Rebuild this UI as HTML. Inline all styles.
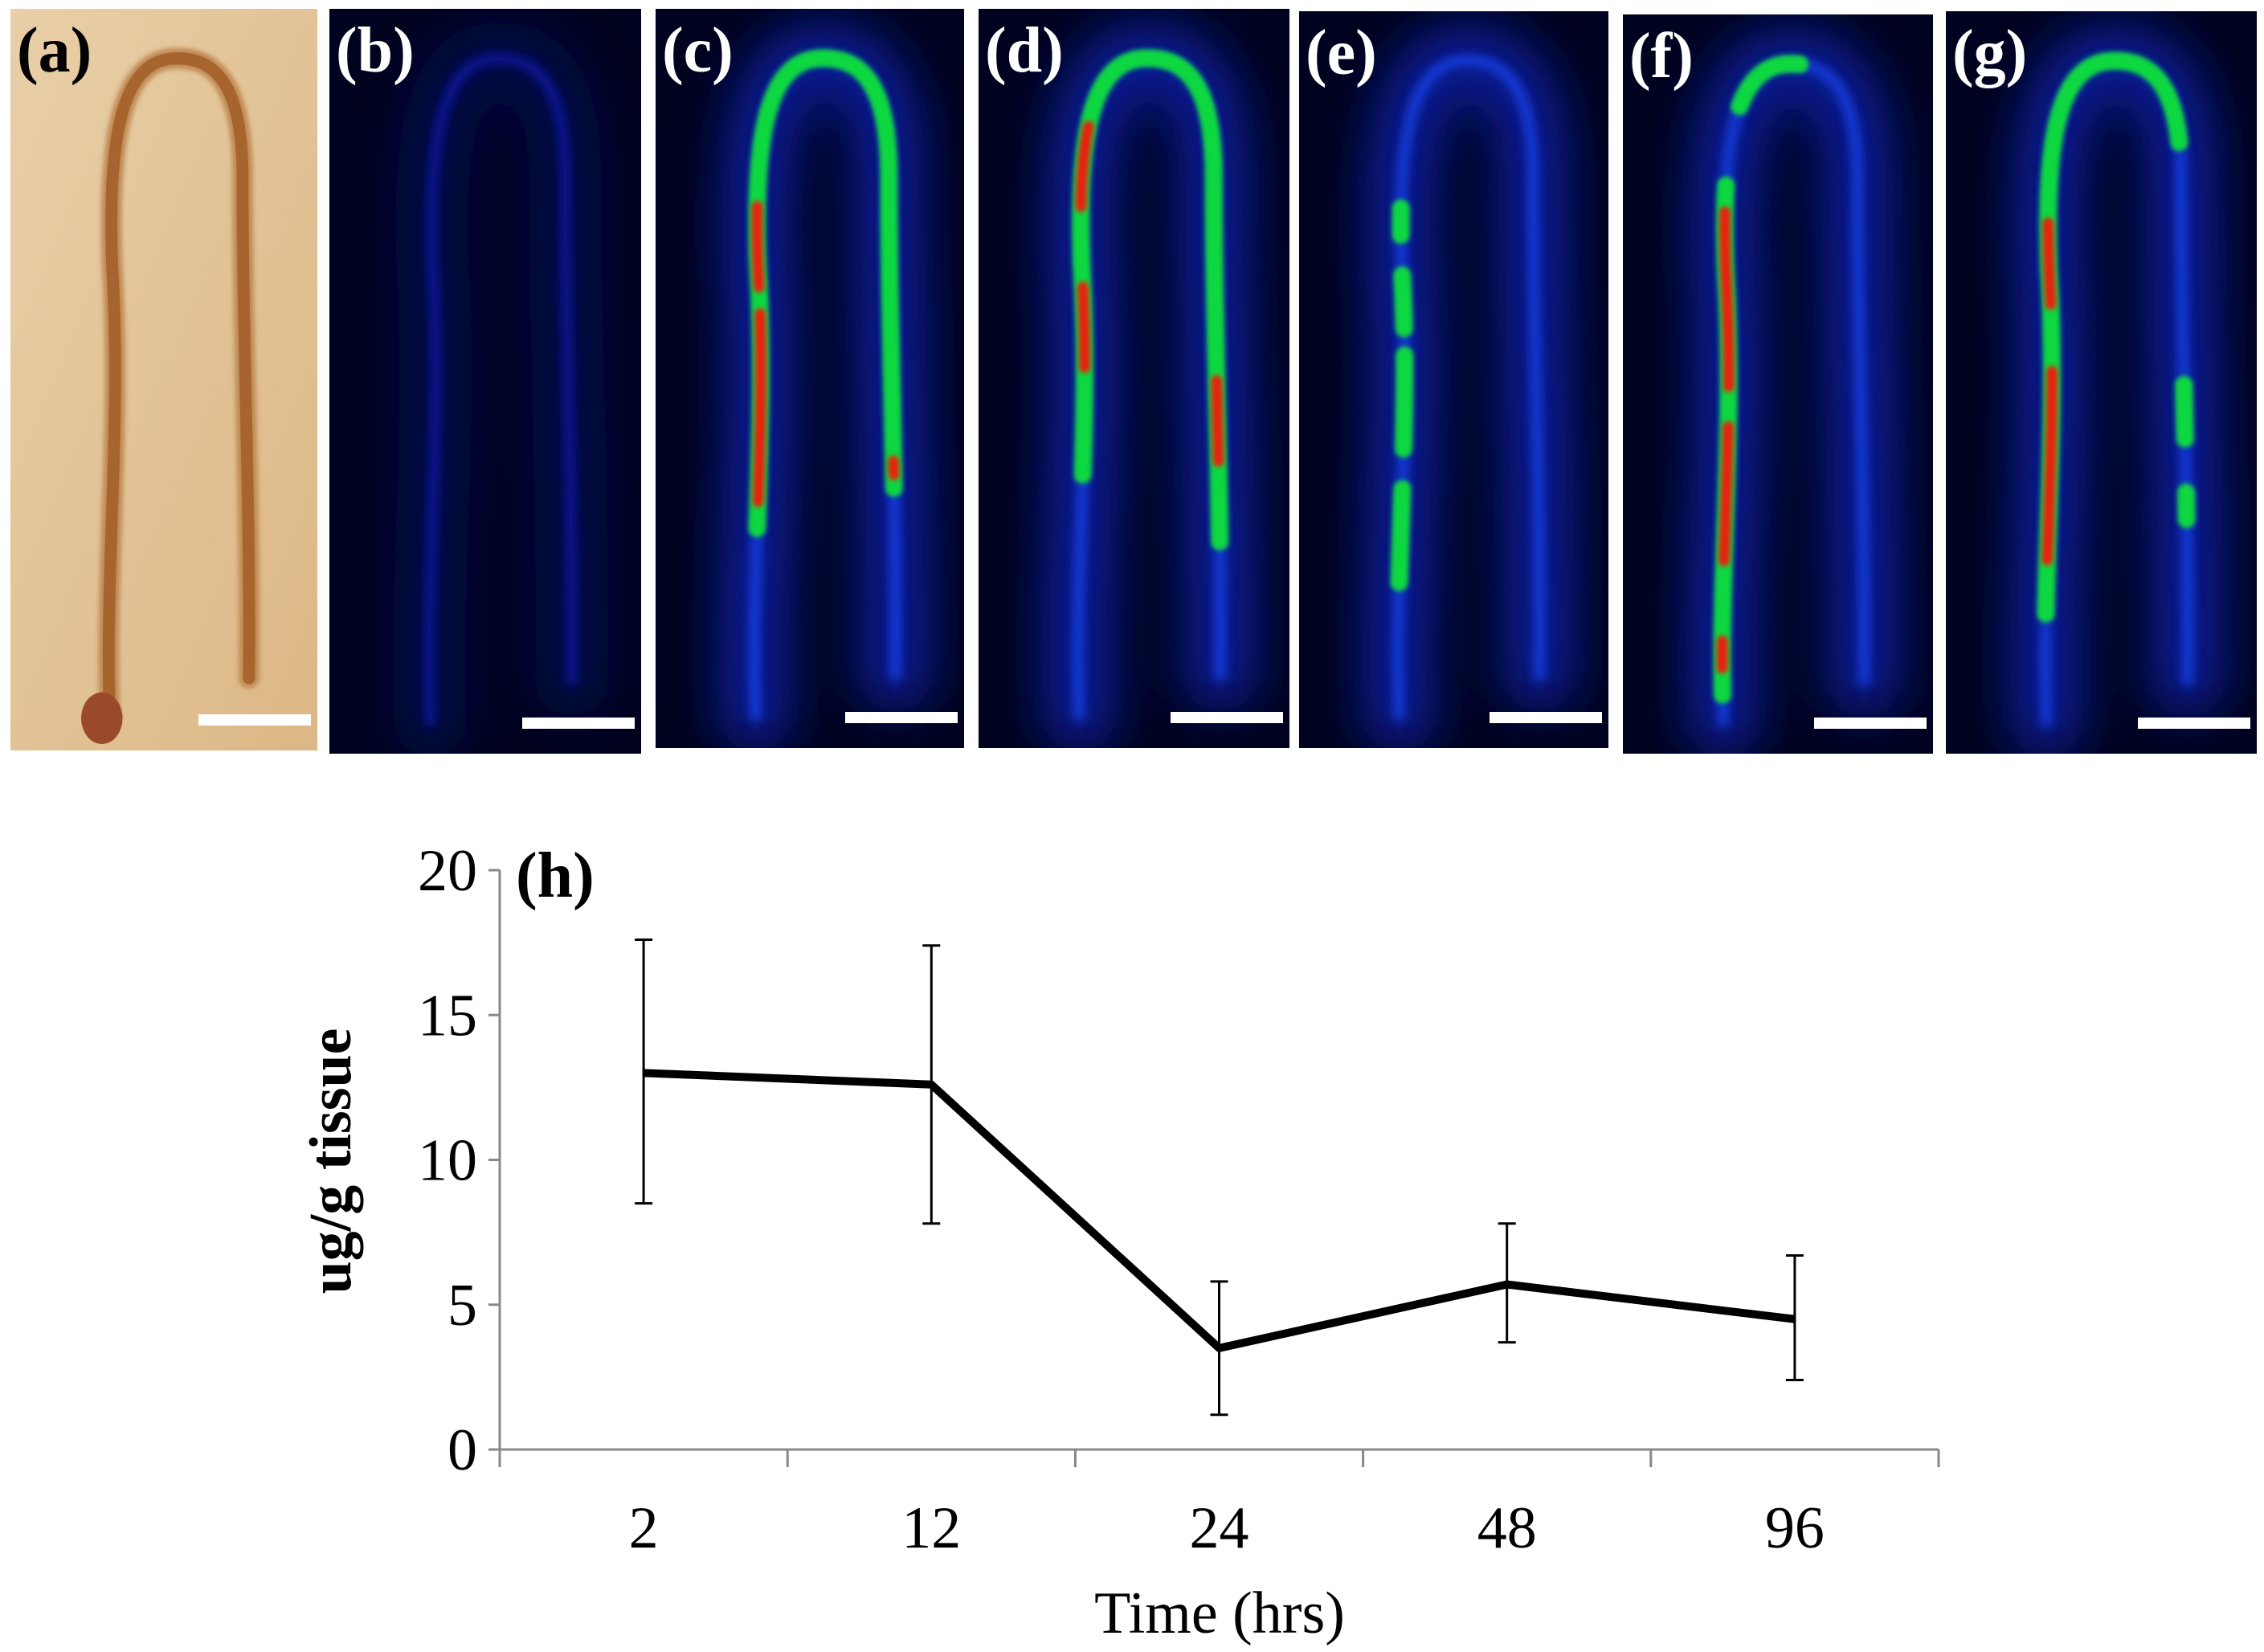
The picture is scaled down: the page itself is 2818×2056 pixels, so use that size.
<!DOCTYPE html>
<html><head><meta charset="utf-8">
<style>
html,body{margin:0;padding:0;background:#fff;}
body{width:2818px;height:2056px;overflow:hidden;}
svg{display:block;}
.lbl{font-family:"Liberation Serif",serif;font-weight:bold;font-size:80px;}
.tick{font-family:"Liberation Serif",serif;font-size:74px;fill:#000;}
</style></head>
<body>
<svg width="2818" height="2056" viewBox="0 0 2818 2056">
<defs>
  <filter id="blurBig" x="-50%" y="-50%" width="200%" height="200%"><feGaussianBlur stdDeviation="30"/></filter>
  <filter id="blurMid" x="-50%" y="-50%" width="200%" height="200%"><feGaussianBlur stdDeviation="6"/></filter>
  <filter id="blurSm" x="-50%" y="-50%" width="200%" height="200%"><feGaussianBlur stdDeviation="3"/></filter>
  <linearGradient id="tan" x1="0" y1="0" x2="1" y2="1"><stop offset="0" stop-color="#e9cfa8"/><stop offset="1" stop-color="#dcb785"/></linearGradient>
</defs>
<g id="panels"></g>
<g id="chart"></g>
</svg>
<script>
const NS='http://www.w3.org/2000/svg';
function mk(tag,attrs,parent){const e=document.createElementNS(NS,tag);for(const k in attrs)e.setAttribute(k,attrs[k]);parent.appendChild(e);return e;}

/* ---------- image panels ---------- */
const panelIds=['a','b','c','d','e','f','g'];
const panelX=[13,410,816,1218,1617,2020,2422];
const panelY=[11,11,11,11,14,18,14];
const panelW=[382,388,384,387,385,386,387];
const panelH=[923,927,920,920,917,920,924];
const wormPath='M 125 880 C 118 700, 140 520, 128 320 C 122 160, 140 70, 200 62 C 262 56, 292 100, 292 210 C 292 420, 302 620, 300 830';
const greenSegs={b:[],c:[[14,86]],d:[[18,90]],e:[[10,17],[20,27],[29,33],[36,38]],f:[[2,40],[46,52]],g:[[8,60],[78,82],[86,88]]};
const redSegs={b:[],c:[[16,30],[32,38],[84,85]],d:[[26,32],[38,44],[78,84]],e:[],f:[[4,6],[12,22],[25,38]],g:[[12,26],[31,37]]};
const panelsG=document.getElementById('panels');
panelIds.forEach((id,i)=>{
  const g=mk('g',{transform:`translate(${panelX[i]},${panelY[i]})`},panelsG);
  
  
  const w=panelW[i],h=panelH[i];
  const cp=mk('clipPath',{id:'cp'+id},g);
  mk('rect',{x:0,y:0,width:w,height:h},cp);
  const inner=mk('g',{'clip-path':`url(#cp${id})`},g);
  const sx=w/386, sy=h/920;
  if(id==='a'){
    mk('rect',{x:0,y:0,width:w,height:h,fill:'url(#tan)'},inner);
    const wg=mk('g',{transform:`scale(${sx},${sy})`},inner);
    mk('path',{d:wormPath,fill:'none',stroke:'#c08a55',"stroke-width":26,"stroke-linecap":'round',filter:'url(#blurSm)'},wg);
    mk('path',{d:wormPath,fill:'none',stroke:'#a8642e',"stroke-width":15,"stroke-linecap":'round'},wg);
    mk('ellipse',{cx:115,cy:880,rx:26,ry:32,fill:'#9a4a28'},wg);
  } else {
    mk('rect',{x:0,y:0,width:w,height:h,fill:'#00031f'},inner);
    const wg=mk('g',{transform:`scale(${sx},${sy})`},inner);
    const glowCol = id==='b' ? '#030850' : '#0a20b0';
    mk('path',{d:wormPath,fill:'none',stroke:glowCol,"stroke-width":90,"stroke-linecap":'round',filter:'url(#blurBig)',opacity:0.8},wg);
    mk('path',{d:wormPath,fill:'none',stroke:id==='b'?'#0a18a0':'#1840e8',"stroke-width":14,"stroke-linecap":'round',filter:'url(#blurMid)',opacity:0.85},wg);
    greenSegs[id].forEach(s=>{
      mk('path',{d:wormPath,pathLength:100,fill:'none',stroke:'#10d840',"stroke-width":22,"stroke-linecap":'round',"stroke-dasharray":`${s[1]-s[0]} 200`,"stroke-dashoffset":-s[0],filter:'url(#blurSm)'},wg);
    });
    redSegs[id].forEach(s=>{
      mk('path',{d:wormPath,pathLength:100,fill:'none',stroke:'#e82010',"stroke-width":14,"stroke-linecap":'round',"stroke-dasharray":`${s[1]-s[0]} 200`,"stroke-dashoffset":-s[0],filter:'url(#blurSm)'},wg);
    });
  }
  const t=mk('text',{x:8,y:78,class:'lbl',fill:id==='a'?'#000':'#fff'},g);
  t.textContent='('+id+')';
  
  
  const sb=mk('rect',{x:w-148,y:h-45,width:140,height:14,fill:'#fff'},g);
  
  
});

/* ---------- chart (h) ---------- */
const categories=['2','12','24','48','96'];
const meanValues=[13.0,12.6,3.5,5.7,4.5];
const errLow=[8.5,7.8,1.2,3.7,2.4];
const errHigh=[17.6,17.4,5.8,7.8,6.7];
const yTicks=[0,5,10,15,20];
const X0=622,X1=2413,Y0=1804,Y20=1083;
const yScale=v=>Y0+(Y20-Y0)*v/20;
const band=(X1-X0)/categories.length;
const xScale=i=>X0+band*(i+0.5);
const ch=document.getElementById('chart');
const axisCol='#888';
const ya=mk('line',{x1:X0,y1:Y20,x2:X0,y2:Y0,stroke:axisCol,"stroke-width":3},ch);


const xa=mk('line',{x1:X0,y1:Y0,x2:X1,y2:Y0,stroke:axisCol,"stroke-width":3},ch);


yTicks.forEach(v=>{
  const y=yScale(v);
  mk('line',{x1:X0-14,y1:y,x2:X0,y2:y,stroke:axisCol,"stroke-width":3},ch);
  const t=mk('text',{x:X0-28,y:y+25,class:'tick','text-anchor':'end'},ch);
  t.textContent=v;
  
  
});
for(let i=0;i<=categories.length;i++){
  const x=X0+band*i;
  mk('line',{x1:x,y1:Y0,x2:x,y2:Y0+22,stroke:axisCol,"stroke-width":3},ch);
}
categories.forEach((c,i)=>{
  const t=mk('text',{x:xScale(i),y:1926,class:'tick','text-anchor':'middle'},ch);
  t.textContent=c;
  
  
});
categories.forEach((c,i)=>{
  const x=xScale(i);
  const g=mk('g',{},ch);
  
  
  mk('line',{x1:x,y1:yScale(errLow[i]),x2:x,y2:yScale(errHigh[i]),stroke:'#000',"stroke-width":3},g);
  mk('line',{x1:x-11,y1:yScale(errLow[i]),x2:x+11,y2:yScale(errLow[i]),stroke:'#000',"stroke-width":3},g);
  mk('line',{x1:x-11,y1:yScale(errHigh[i]),x2:x+11,y2:yScale(errHigh[i]),stroke:'#000',"stroke-width":3},g);
});
const pts=meanValues.map((v,i)=>xScale(i)+','+yScale(v)).join(' ');
const line=mk('polyline',{points:pts,fill:'none',stroke:'#000',"stroke-width":10,"stroke-linejoin":'round'},ch);


const h=mk('text',{x:642,y:1116,class:'lbl',fill:'#000'},ch);
h.textContent='(h)';


const xt=mk('text',{x:1518,y:2032,class:'tick','text-anchor':'middle'},ch);
xt.textContent='Time (hrs)';


const yt=mk('text',{x:0,y:0,class:'tick','text-anchor':'middle',transform:'translate(436,1445) rotate(-90)','font-weight':'bold'},ch);
yt.textContent='ug/g tissue';


</script>
</body></html>
